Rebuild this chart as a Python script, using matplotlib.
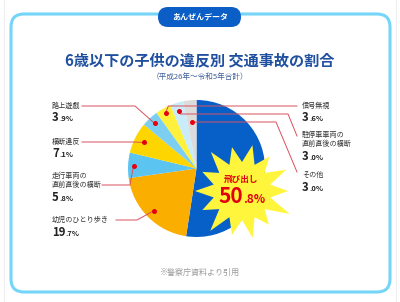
import numpy as np
import matplotlib
matplotlib.use("Agg")
import matplotlib.pyplot as plt
from matplotlib.patches import FancyBboxPatch, Polygon

plt.rcParams['font.family'] = ['Noto Sans CJK JP', 'DejaVu Sans']

# data (slice order: clockwise from 12 o'clock)
labels = ['飛び出し', '幼児のひとり歩き', '走行車両の\n直前直後の横断', '横断違反',
          '路上遊戯', '信号無視', '駐停車車両の\n直前直後の横断', 'その他']
values = [50.8, 19.7, 5.8, 7.1, 3.9, 3.6, 3.0, 3.0]
colors = ['#0760c8', '#f9ae00', '#5cc4f0', '#ffd500', '#7dcff2', '#fff03c', '#c9ecfa', '#dcdcdc']

title = '6歳以下の子供の違反別 交通事故の割合'
subtitle = '（平成26年～令和5年合計）'
badge = 'あんぜんデータ'
source = '※警察庁資料より引用'

W, H = 400, 302


def Y(y):
    # image row -> data y
    return H - y


fig = plt.figure(figsize=(4, 3.02), dpi=100)
ax = fig.add_axes([0, 0, 1, 1])

# pie
cx, cy, R = 196.5, Y(168.5), 68.5
wedges, _ = ax.pie(values, colors=colors, startangle=90, counterclock=False,
                   center=(cx, cy), radius=R, wedgeprops=dict(linewidth=0))
for w in wedges:
    w.set_zorder(2)
ax.set_xlim(0, W)
ax.set_ylim(0, H)
ax.set_aspect('auto')
ax.axis('off')

# frame + badge
ax.add_patch(FancyBboxPatch((11, Y(292)), 379, 278, boxstyle='round,pad=0,rounding_size=13',
                            fc='white', ec='#74d5f8', lw=2.2, zorder=0))
ax.add_patch(FancyBboxPatch((158, Y(27)), 83, 20, boxstyle='round,pad=0,rounding_size=10',
                            fc='#0b5ec6', ec='none', zorder=1))
ax.text(200, Y(17), badge, color='white', fontsize=5.8, fontweight='bold', ha='center', va='center', zorder=2)
ax.plot([4, 4], [0, H], color='#eeeeee', lw=0.8, zorder=0)
ax.plot([396, 396], [0, H], color='#eeeeee', lw=0.8, zorder=0)

ax.text(200, Y(60), title, color='#1f4f9f', fontsize=10.9, fontweight='bold', ha='center', va='center')
ax.text(200, Y(77), subtitle, color='#3d5d9a', fontsize=5.5, ha='center', va='center')
ax.text(200, Y(272), source, color='#9a9a9a', fontsize=5.8, ha='center', va='center')

# starburst for the biggest slice
sx, sy = 242, Y(191)
outer = [47, 44, 51, 45, 48, 43, 53, 46, 49, 44, 47, 45, 50, 44]
n = len(outer)
pts = []
for i in range(n):
    a = np.pi + 2 * np.pi * i / n
    pts.append((sx + outer[i] * np.cos(a), sy + outer[i] * np.sin(a)))
    b = a + np.pi / n
    pts.append((sx + 29 * np.cos(b), sy + 29 * np.sin(b)))
ax.add_patch(Polygon(pts, closed=True, fc='#fff53c', ec='none', zorder=5))

fig.canvas.draw()
renderer = fig.canvas.get_renderer()


def pct_text(x, y, v, big, small, color, ha='left'):
    s = f'{v:.1f}'
    a, b = s.split('.')
    t = ax.text(x, y, a, fontsize=big, fontweight='bold', color=color, ha=ha, va='baseline', zorder=7)
    bb = t.get_window_extent(renderer).transformed(ax.transData.inverted())
    ax.text(bb.x1 + 0.3, y, '.' + b + '%', fontsize=small, fontweight='bold', color=color,
            ha='left', va='baseline', zorder=7)


ax.text(241, Y(179), labels[0], color='#e2000f', fontsize=6.2, fontweight='bold', ha='center', va='center', zorder=7)
pct_text(243, Y(203), values[0], 15, 8.5, '#e2000f', ha='right')

# callouts: side, label y, pct baseline y, leader line y, line x range / end
callout = {
    1: dict(side='L', ly=220, py=236, hy=220, x0=116, x1=137, r=0.88),
    2: dict(side='L', ly=180.5, py=201, hy=185, x0=102, x1=130, r=0.92),
    3: dict(side='L', ly=142, py=157, hy=142, x0=82, x1=133, r=0.85),
    4: dict(side='L', ly=106, py=121, hy=106, x0=82, x1=135, r=0.90),
    5: dict(side='R', ly=106, py=121, hy=106, x1=297, end=(297, 106), r=0.93),
    6: dict(side='R', ly=139.5, py=160, hy=114, x1=288, end=(297, 136), r=0.87),
    7: dict(side='R', ly=175, py=191, hy=122, x1=276, end=(297, 172), r=0.68),
}
lc = '#d9505e'
for i, c in callout.items():
    w = wedges[i]
    th = np.deg2rad((w.theta1 + w.theta2) / 2)
    dx, dy = cx + c['r'] * R * np.cos(th), cy + c['r'] * R * np.sin(th)
    if c['side'] == 'L':
        xs = [c['x0'], c['x1'], dx]
        ys = [Y(c['hy']), Y(c['hy']), dy]
        tx = 52
    else:
        hy = Y(c['hy'])
        xs = [dx, dx + abs(dy - hy) * 0.4, c['x1'], c['end'][0]]
        ys = [dy, hy, hy, Y(c['end'][1])]
        tx = 302
    ax.plot(xs, ys, color=lc, lw=0.7, zorder=3)
    ax.plot(dx, dy, 'o', color='#e3000f', ms=3.6, mec='none', zorder=4)
    ax.text(tx, Y(c['ly']), labels[i], fontsize=5.1, color='#333333', ha='left', va='center',
            linespacing=1.3, zorder=7)
    pct_text(tx, Y(c['py']), values[i], 8.2, 5.4, '#222222')

fig.savefig('out.png', dpi=100)
